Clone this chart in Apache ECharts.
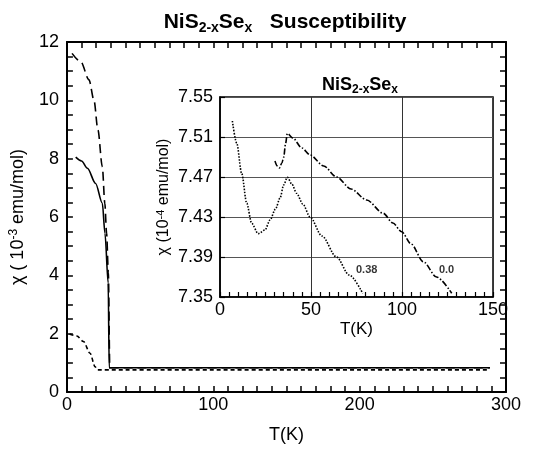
<!DOCTYPE html>
<html>
<head>
<meta charset="utf-8">
<script src="https://cdn.jsdelivr.net/npm/echarts@6/dist/echarts.min.js"></script>
<style>html,body{margin:0;padding:0;background:#fff}#c{width:556px;height:457px}</style>
</head>
<body>
<div id="c"></div>
<script>
// ---- Main panel data: T (K), chi (1e-3 emu/mol)
var mainLongDashT   = [3.5, 9.5, 15.1, 18.5, 21.2, 24.2, 25.9, 27.1, 28.3, 29.3, 289];
var mainLongDashChi = [11.61, 11.32, 10.7, 10.0, 8.98, 7.72, 6.47, 5.45, 4.1, 0.83, 0.83];
var mainSolidT      = [6, 10, 14, 19.6, 24.2, 26, 28.2, 28.9, 289];
var mainSolidChi    = [8.05, 7.92, 7.67, 7.15, 6.47, 5.44, 3.73, 0.83, 0.83];
var mainShortDashT   = [1.8, 6.8, 11.3, 15.8, 19.2, 20.8, 289];
var mainShortDashChi = [1.99, 1.92, 1.73, 1.33, 0.87, 0.76, 0.76];
var mainXTicks = [0, 100, 200, 300];
var mainYTicks = [0, 2, 4, 6, 8, 10, 12];

// ---- Inset data: T (K), chi (1e-4 emu/mol)
var inset038T   = [6.8, 9.2, 11.9, 14.7, 17.4, 21, 24.7, 27.5, 30.5, 33, 35, 37, 39.5, 42.1, 45.5, 49.5, 56, 64, 71, 78.4];
var inset038Chi = [7.526, 7.5037, 7.4737, 7.4437, 7.4237, 7.4133, 7.417, 7.427, 7.438, 7.449, 7.462, 7.4697, 7.463, 7.4537, 7.443, 7.430, 7.411, 7.390, 7.372, 7.3537];
var inset00T   = [30.2, 31.5, 32.6, 34, 35, 36, 37, 40, 45, 49.5, 57, 64, 72, 80.6, 89.7, 95, 99.8, 105, 111.7, 119, 127.3];
var inset00Chi = [7.486, 7.481, 7.479, 7.484, 7.4897, 7.503, 7.5137, 7.509, 7.499, 7.492, 7.481, 7.470, 7.458, 7.447, 7.4337, 7.424, 7.4153, 7.403, 7.3853, 7.370, 7.3537];
var insetLabels = ['0.38', '0.0'];
var insetLabelT = [80.6, 124.5];
var insetLabelChi = [7.377, 7.377];
var insetYTicks = [7.35, 7.39, 7.43, 7.47, 7.51, 7.55];
var insetXTicks = [0, 50, 100, 150];

function zip(a, b) { return a.map(function (v, i) { return [v, b[i]]; }); }
function near(list, v) { return list.some(function (t) { return Math.abs(t - v) < 1e-6; }); }

var FONT = 'Liberation Sans';
var chart = echarts.init(document.getElementById('c'));

var frameAxis = function (extra) {
  return Object.assign({
    axisLine: { show: true, onZero: false, lineStyle: { color: '#000', width: 2 } },
    axisTick: { show: true, inside: true, length: 6, lineStyle: { color: '#000', width: 1.5 } },
    axisLabel: { show: false },
    splitLine: { show: false }
  }, extra);
};

var option = {
  backgroundColor: '#fff',
  animation: false,
  title: [
    {
      text: 'NiS{sub|2-x}Se{sub|x}   Susceptibility',
      left: 280, top: 4, textAlign: 'center',
      textStyle: {
        fontFamily: FONT, fontWeight: 'bold', fontSize: 21, color: '#000', lineHeight: 26,
        rich: { sub: { fontFamily: FONT, fontWeight: 'bold', fontSize: 14, verticalAlign: 'bottom', lineHeight: 13, color: '#000' } }
      }
    },
    {
      text: 'NiS{sub|2-x}Se{sub|x}',
      left: 355, top: 69, textAlign: 'center',
      textStyle: {
        fontFamily: FONT, fontWeight: 'bold', fontSize: 18, color: '#000', lineHeight: 22,
        rich: { sub: { fontFamily: FONT, fontWeight: 'bold', fontSize: 12, verticalAlign: 'bottom', lineHeight: 11, color: '#000' } }
      }
    }
  ],
  grid: [
    { left: 63, top: 42, width: 443, height: 350, show: false },
    { left: 220, top: 97, width: 273, height: 200, show: true, backgroundColor: '#fff', borderColor: '#000', borderWidth: 1.5, z: 5 }
  ],
  xAxis: [
    frameAxis({
      gridIndex: 0, type: 'value', min: 0, max: 300, interval: 10, position: 'bottom',
      axisLabel: {
        show: true, fontFamily: FONT, fontSize: 18, color: '#000', margin: 4,
        formatter: function (v) { return near(mainXTicks, v) ? String(Math.round(v)) : ''; }
      },
      name: 'T(K)', nameLocation: 'middle', nameGap: 34,
      nameTextStyle: { fontFamily: FONT, fontSize: 18, color: '#000' }
    }),
    frameAxis({
      gridIndex: 0, type: 'value', min: 0, max: 300, interval: 10, position: 'top'
    }),
    {
      gridIndex: 1, type: 'value', min: 0, max: 150, interval: 50, position: 'bottom', z: 6,
      axisLine: { show: true, onZero: false, lineStyle: { color: '#000', width: 1.5 } },
      axisTick: { show: false },
      splitLine: { show: true, lineStyle: { color: '#333', width: 1 } },
      axisLabel: {
        show: true, fontFamily: FONT, fontSize: 18, color: '#000', margin: 4,
        formatter: function (v) { return near(insetXTicks, v) ? String(Math.round(v)) : ''; }
      },
      name: 'T(K)', nameLocation: 'middle', nameGap: 24,
      nameTextStyle: { fontFamily: FONT, fontSize: 17, color: '#000' }
    },
    {
      gridIndex: 1, type: 'value', min: 0, max: 150, interval: 5, position: 'bottom', z: 6,
      axisLine: { show: false, onZero: false },
      axisTick: { show: true, inside: true, length: 5, lineStyle: { color: '#000', width: 1.2 } },
      splitLine: { show: false },
      axisLabel: { show: false }
    }
  ],
  yAxis: [
    frameAxis({
      gridIndex: 0, type: 'value', min: 0, max: 12, interval: 0.5, position: 'left',
      axisLabel: {
        show: true, fontFamily: FONT, fontSize: 18, color: '#000', margin: 8,
        formatter: function (v) { return near(mainYTicks, v) ? String(Math.round(v)) : ''; }
      },
      name: 'χ ( 10{sup|-3} emu/mol)', nameLocation: 'middle', nameGap: 17,
      nameTextStyle: {
        fontFamily: FONT, fontSize: 18, color: '#000', lineHeight: 20,
        rich: { sup: { fontFamily: FONT, fontSize: 12, verticalAlign: 'top', lineHeight: 10, color: '#000' } }
      }
    }),
    frameAxis({
      gridIndex: 0, type: 'value', min: 0, max: 12, interval: 0.5, position: 'right'
    }),
    {
      gridIndex: 1, type: 'value', min: 7.35, max: 7.55, interval: 0.04, position: 'left', z: 6,
      axisLine: { show: true, onZero: false, lineStyle: { color: '#000', width: 1.5 } },
      axisTick: { show: true, inside: true, length: 5, lineStyle: { color: '#000', width: 1.2 } },
      splitLine: { show: true, lineStyle: { color: '#555', width: 1 } },
      axisLabel: {
        show: true, fontFamily: FONT, fontSize: 18, color: '#000', margin: 7,
        formatter: function (v) { return v.toFixed(2); }
      },
      name: 'χ (10{sup|-4} emu/mol)', nameLocation: 'middle', nameGap: 47,
      nameTextStyle: {
        fontFamily: FONT, fontSize: 16, color: '#000', lineHeight: 18,
        rich: { sup: { fontFamily: FONT, fontSize: 11, verticalAlign: 'top', lineHeight: 9, color: '#000' } }
      }
    }
  ],
  series: [
    {
      type: 'line', xAxisIndex: 0, yAxisIndex: 0, data: zip(mainLongDashT, mainLongDashChi),
      showSymbol: false, smooth: 0.3, smoothMonotone: 'x',
      lineStyle: { color: '#000', width: 1.6, type: [9, 5] }
    },
    {
      type: 'line', xAxisIndex: 0, yAxisIndex: 0, data: zip(mainSolidT, mainSolidChi),
      showSymbol: false, smooth: 0.3, smoothMonotone: 'x',
      lineStyle: { color: '#000', width: 1.6 }
    },
    {
      type: 'line', xAxisIndex: 0, yAxisIndex: 0, data: zip(mainShortDashT, mainShortDashChi),
      showSymbol: false, smooth: 0.3, smoothMonotone: 'x',
      lineStyle: { color: '#000', width: 1.6, type: [4, 3] }
    },
    {
      type: 'line', xAxisIndex: 1, yAxisIndex: 1, data: [], showSymbol: false, silent: true
    },
    {
      type: 'line', xAxisIndex: 3, yAxisIndex: 2, data: [], showSymbol: false, silent: true
    },
    {
      type: 'line', xAxisIndex: 2, yAxisIndex: 2, data: zip(inset038T, inset038Chi), z: 7,
      showSymbol: false, smooth: 0.3, smoothMonotone: 'x',
      lineStyle: { color: '#000', width: 1.6, type: [1.5, 1.5] }
    },
    {
      type: 'line', xAxisIndex: 2, yAxisIndex: 2, data: zip(inset00T, inset00Chi), z: 7,
      showSymbol: false, smooth: 0.3, smoothMonotone: 'x',
      lineStyle: { color: '#000', width: 1.6, type: [6, 2, 1.5, 2] }
    },
    {
      type: 'scatter', xAxisIndex: 2, yAxisIndex: 2, z: 8, symbolSize: 0,
      data: insetLabels.map(function (s, i) { return { value: [insetLabelT[i], insetLabelChi[i]], name: s }; }),
      label: {
        show: true, position: 'inside', formatter: '{b}',
        fontFamily: FONT, fontWeight: 'bold', fontSize: 11, color: '#000'
      }
    }
  ]
};
chart.setOption(option);
</script>
</body>
</html>
